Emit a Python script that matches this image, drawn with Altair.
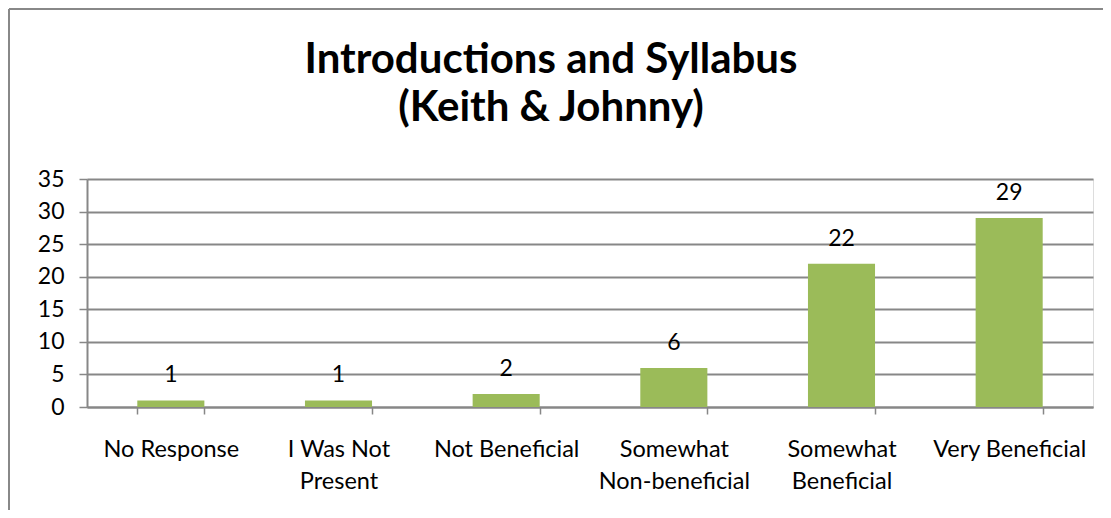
import json
import altair as alt
import pandas as pd

categories = ["No Response", "I Was Not Present", "Not Beneficial",
              "Somewhat Non-beneficial", "Somewhat Beneficial", "Very Beneficial"]
counts = [1, 1, 2, 6, 22, 29]
label_lines = [["No Response"], ["I Was Not", "Present"], ["Not Beneficial"],
               ["Somewhat", "Non-beneficial"], ["Somewhat", "Beneficial"], ["Very Beneficial"]]
y_ticks = [0, 5, 10, 15, 20, 25, 30, 35]
title_lines = ["Introductions and Syllabus", "(Keith & Johnny)"]

df = pd.DataFrame({"category": categories, "count": counts})

expr = "datum.label"
for cat, lines in reversed(list(zip(categories, label_lines))):
    expr = f"datum.value == {json.dumps(cat)} ? {json.dumps(lines)} : ({expr})"

FONT = "Lato"
W, H = 1006, 228
PAD_L, PAD_T, PAD_R, PAD_B = 79, 171, 10, 103
GRID = "#878787"

x_enc = alt.X("category:N", sort=categories, title=None,
              scale=alt.Scale(paddingInner=0.6, paddingOuter=0.3),
              axis=alt.Axis(labelExpr=expr, labelAngle=0, labelFont=FONT, labelFontSize=23.5,
                            labelColor="black", labelLineHeight=32, labelPadding=23,
                            labelLimit=300, labelOverlap=False, tickBand="extent", tickSize=7,
                            tickColor=GRID, tickWidth=1.5, domainColor=GRID, domainWidth=2,
                            grid=False))
y_enc = alt.Y("count:Q", title=None,
              scale=alt.Scale(domain=[0, 35], nice=False),
              axis=alt.Axis(values=y_ticks, labelFont=FONT, labelFontSize=23, labelColor="black",
                            labelPadding=15, labelOverlap=False, tickSize=8, tickColor=GRID,
                            tickWidth=1.5, domainColor=GRID, domainWidth=2, gridColor=GRID,
                            gridWidth=1.8))

bars = alt.Chart(df).mark_bar(color="#9BBB59").encode(x=x_enc, y=y_enc)
labels = alt.Chart(df).mark_text(font=FONT, fontSize=23, color="black", baseline="alphabetic", dy=-18).encode(
    x=x_enc, y=y_enc, text="count:Q")

top_border = alt.Chart(df).mark_rule(color="#888888", strokeWidth=2).encode(
    x=alt.value(-PAD_L + 1), x2=alt.value(W + PAD_R), y=alt.value(-PAD_T + 1))
left_border = alt.Chart(df).mark_rule(color="#888888", strokeWidth=2).encode(
    x=alt.value(-PAD_L + 1), y=alt.value(-PAD_T + 1), y2=alt.value(H + PAD_B))

chart = alt.layer(bars, labels, top_border, left_border).properties(
    width=W, height=H,
    title=alt.TitleParams(text=title_lines, font=FONT, fontSize=42, fontWeight="bold",
                          color="black", anchor="middle", dx=-39, offset=-122, lineHeight=48),
    autosize=alt.AutoSizeParams(type="none"),
    padding={"left": PAD_L, "top": PAD_T, "right": PAD_R, "bottom": PAD_B},
).configure_view(stroke=None).configure(background="white")

chart.save("out.html", embed_options={"renderer": "svg", "actions": False})
